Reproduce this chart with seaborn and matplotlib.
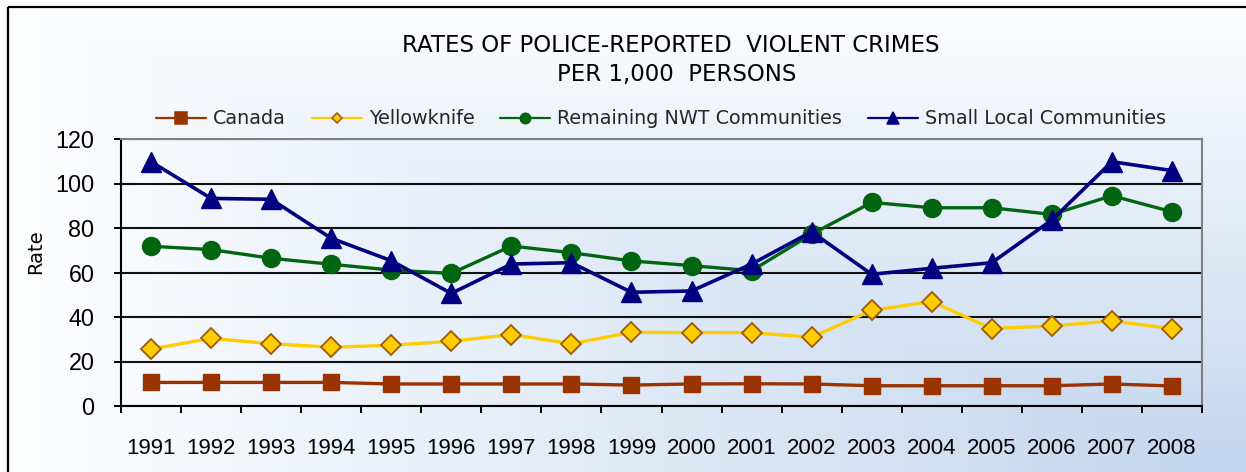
import numpy as np
import matplotlib
matplotlib.use("Agg")
import matplotlib.pyplot as plt
from matplotlib.colors import to_rgb
from matplotlib.lines import Line2D
from matplotlib.patches import Rectangle
import seaborn as sns

# ---- data: police-reported violent crimes per 1,000 persons ----
years = [str(y) for y in range(1991, 2009)]
canada = [10.6, 10.6, 10.6, 10.6, 9.9, 9.9, 9.9, 9.9, 9.4, 9.9,
          10.0, 9.9, 9.1, 9.1, 9.1, 9.1, 9.9, 9.0]
yellowknife = [25.6, 30.4, 28.0, 26.4, 27.3, 29.1, 32.1, 28.0, 33.1, 33.0,
               33.0, 30.9, 43.0, 46.9, 34.8, 36.0, 38.2, 34.8]
remaining_nwt = [71.8, 70.3, 66.4, 63.7, 61.1, 59.6, 71.9, 68.9, 65.2, 63.1,
                 60.8, 77.2, 91.5, 89.1, 89.1, 86.1, 94.5, 87.3]
small_local = [109.8, 93.3, 92.9, 75.4, 65.3, 50.6, 63.8, 64.4, 51.1, 51.7,
               63.8, 78.3, 59.2, 61.9, 64.4, 83.6, 109.8, 105.8]
series_names = ["Canada", "Yellowknife", "Remaining NWT Communities",
                "Small Local Communities"]
y_ticks = [0, 20, 40, 60, 80, 100, 120]
title_lines = ["RATES OF POLICE-REPORTED  VIOLENT CRIMES", "PER 1,000  PERSONS"]

W, H = 1246, 472
sns.set_theme(style="white")
plt.rcParams["font.family"] = ["DejaVu Sans"]

fig = plt.figure(figsize=(W / 100, H / 100), dpi=100)


def px_rect(x0, y0, x1, y1):
    return [x0 / W, 1 - y1 / H, (x1 - x0) / W, (y1 - y0) / H]


# ---- background: corner gradient inside a black frame ----
bg = fig.add_axes([0, 0, 1, 1], zorder=0)
bg.set_xlim(0, W)
bg.set_ylim(H, 0)
bg.axis("off")
fx0, fy0 = 8, 7
gx = np.linspace(0, 1, W - fx0)
gy = np.linspace(0, 1, H - fy0)
t = np.minimum(gx[None, :], gy[:, None])
c0 = np.array(to_rgb("#fdfeff"))
c1 = np.array(to_rgb("#c3d6ee"))
img = c0 + (c1 - c0) * t[..., None]
bg.imshow(img, extent=(fx0, W, H, fy0), aspect="auto", interpolation="bilinear")
bg.add_patch(Rectangle((fx0, fy0), W + 20, H + 20, fill=False,
                       ec="black", lw=1.6))

# ---- main plot ----
ax = fig.add_axes(px_rect(121, 139, 1202, 406), zorder=1)
ax.set_facecolor("none")
xpos = np.arange(len(years))

styles = [
    dict(color="#993300", marker="s", markersize=11, markeredgecolor="#993300",
         markerfacecolor="#993300", markeredgewidth=1, linewidth=2.4),
    dict(color="#FFCC00", marker="D", markersize=10, markeredgecolor="#9a5a0a",
         markerfacecolor="#FFCC00", markeredgewidth=1.3, linewidth=2.4),
    dict(color="#006411", marker="o", markersize=13, markeredgecolor="#006411",
         markerfacecolor="#006411", markeredgewidth=1, linewidth=2.4),
    dict(color="#000080", marker="^", markersize=14, markeredgecolor="#000080",
         markerfacecolor="#000080", markeredgewidth=1, linewidth=2.6),
]
all_series = [canada, yellowknife, remaining_nwt, small_local]
for name, vals, st in zip(series_names, all_series, styles):
    sns.lineplot(x=xpos, y=vals, ax=ax, clip_on=False, zorder=3, legend=False, **st)

ax.set_xlim(-0.5, len(years) - 0.5)
ax.set_ylim(0, 120)
ax.set_yticks(y_ticks)
ax.set_yticklabels([str(v) for v in y_ticks], family="Liberation Sans", fontsize=16.8)
ax.set_xticks(xpos)
ax.set_xticklabels(years, family="Liberation Sans", fontsize=16)
ax.set_xticks(np.arange(-0.5, len(years), 1), minor=True)
ax.tick_params(axis="x", which="major", bottom=True, length=0, pad=23, colors="black")
ax.tick_params(axis="x", which="minor", bottom=True, length=5, width=1.4,
               direction="out", color="black")
ax.tick_params(axis="y", which="major", left=True, length=5, width=1.4,
               direction="out", color="black", pad=14, labelcolor="black")

ax.set_axisbelow(True)
ax.yaxis.grid(True, color="#111111", linewidth=1.5)
ax.xaxis.grid(False)
for side in ("left", "bottom"):
    ax.spines[side].set_color("black")
    ax.spines[side].set_linewidth(1.5)
for side in ("top", "right"):
    ax.spines[side].set_color("#808080")
    ax.spines[side].set_linewidth(1.5)

ax.set_ylabel("Rate", fontsize=14, color="black")
ax.yaxis.set_label_coords((36 - 121) / 1081, (406 - 252) / 267)
ax.yaxis.label.set_verticalalignment("center")
ax.set_xlabel("")

# ---- legend ----
legend_sizes = [9, 5.5, 7.5, 9]
handles = []
for name, st, ms in zip(series_names, styles, legend_sizes):
    h = Line2D([], [], color=st["color"], marker=st["marker"], markersize=ms,
               markerfacecolor=st["markerfacecolor"],
               markeredgecolor=st["markeredgecolor"],
               markeredgewidth=1.1, linewidth=1.6, label=name)
    handles.append(h)
ax.legend(handles=handles, loc="center", bbox_to_anchor=(661 / W, 1 - 119 / H),
          bbox_transform=fig.transFigure, ncol=4, frameon=False, fontsize=13.8,
          handlelength=2.6, handletextpad=0.36, columnspacing=1.35,
          borderaxespad=0, borderpad=0)

# ---- title ----
fig.text(671 / W, 1 - 45 / H, title_lines[0], ha="center", va="center",
         fontsize=16.5, color="black")
fig.text(677 / W, 1 - 75 / H, title_lines[1], ha="center", va="center",
         fontsize=16.5, color="black")

fig.savefig("out.png", dpi=100)
